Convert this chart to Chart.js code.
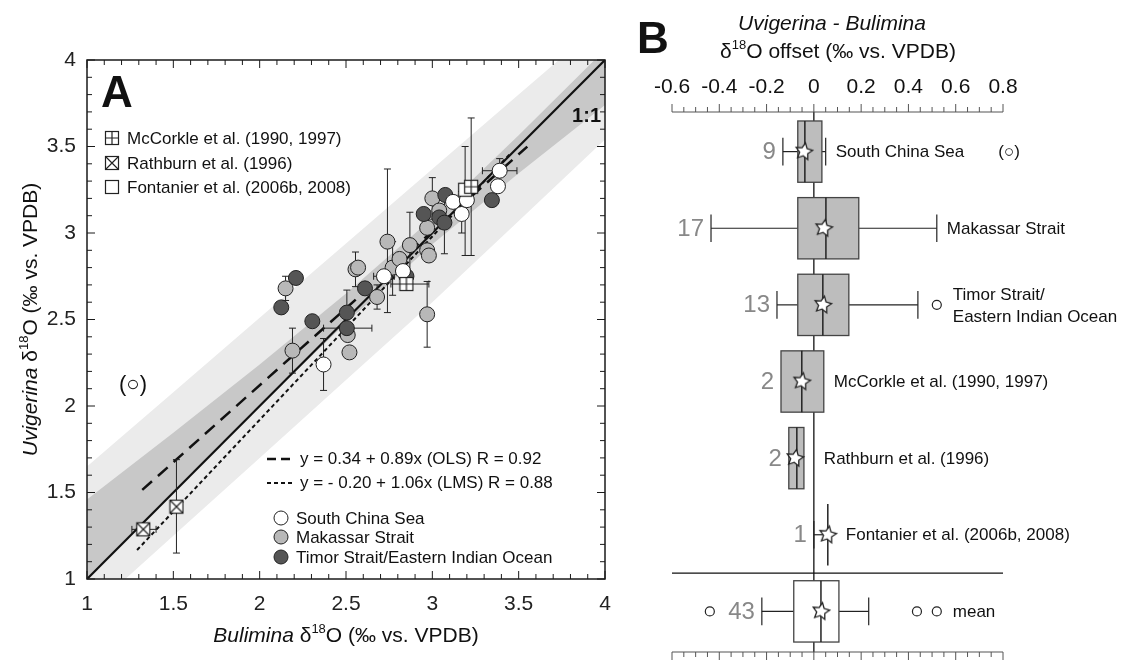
<!DOCTYPE html>
<html lang="en">
<head>
<meta charset="UTF-8">
<title>Uvigerina vs. Bulimina oxygen isotopes</title>
<script src="https://cdn.jsdelivr.net/npm/chart.js"></script>
<style>
  html, body { margin: 0; padding: 0; background: #fff; }
  #wrapA { position: absolute; left: 0; top: 0; width: 625px; height: 662px; }
  #wrapB { position: absolute; left: 625px; top: 0; width: 514px; height: 662px; }
</style>
</head>
<body>
<div id="wrapA"><canvas id="chartA"></canvas></div>
<div id="wrapB"><canvas id="chartB"></canvas></div>
<script>
const FONT = '"Liberation Sans", Arial, Helvetica, sans-serif';

// ---------- panel A data ----------
const ticksA = [1, 1.5, 2, 2.5, 3, 3.5, 4];

// South China Sea (white)
const scsX = [2.37, 2.72, 2.83, 3.12, 3.17, 3.20, 3.38, 3.39];
const scsY = [2.24, 2.75, 2.78, 3.18, 3.11, 3.19, 3.27, 3.36];
const scsXBar = [null, [2.66, 2.78], null, null, null, null, null, [3.29, 3.49]];
const scsYBar = [[2.09, 2.39], null, null, null, [3.00, 3.24], null, null, [3.29, 3.43]];

// Makassar Strait (light grey)
const makX = [2.15, 2.19, 2.51, 2.52, 2.555, 2.57, 2.68, 2.74, 2.77, 2.81, 2.87, 2.97, 2.97, 2.98, 2.97, 3.00, 3.04];
const makY = [2.68, 2.32, 2.41, 2.31, 2.79, 2.80, 2.63, 2.95, 2.80, 2.85, 2.93, 2.53, 2.90, 2.87, 3.03, 3.20, 3.13];
const makXBar = [null, null, null, null, null, null, null, null, null, null, null, null, null, null, null, null, null];
const makYBar = [[2.61, 2.75], [2.19, 2.45], null, null, [2.69, 2.89], null, [2.56, 2.70], [2.54, 3.37], [2.64, 2.95], null,
                 [2.75, 3.12], [2.34, 2.72], null, null, null, [3.08, 3.32], null];

// Timor Strait / Eastern Indian Ocean (dark grey)
const timX = [2.21, 2.125, 2.305, 2.505, 2.505, 2.61, 2.85, 2.95, 3.04, 3.07, 3.075, 3.345];
const timY = [2.74, 2.57, 2.49, 2.54, 2.45, 2.68, 2.75, 3.11, 3.09, 3.06, 3.22, 3.19];
const timXBar = [null, null, null, null, [2.37, 2.65], null, null, null, null, null, null, null];
const timYBar = [null, null, null, [2.41, 2.67], null, null, null, null, null, [2.88, 3.25], null, null];

// literature values
const mccX = [2.85, 3.225];
const mccY = [2.705, 3.267];
const mccXBar = [[2.76, 2.98], null];
const mccYBar = [null, [2.87, 3.665]];

const rathX = [1.326, 1.518];
const rathY = [1.287, 1.418];
const rathXBar = [[1.26, 1.40], null];
const rathYBar = [null, [1.15, 1.69]];

const fontX = [3.19];
const fontY = [3.25];
const fontXBar = [null];
const fontYBar = [[2.87, 3.50]];

// regressions (as stated in the legend) and their x extent
const ols = { a: 0.34, b: 0.89, from: 1.32, to: 3.55 };
const lms = { a: -0.20, b: 1.06, from: 1.29, to: 3.45 };

// shaded envelopes
const bandX       = [1, 1.5, 2, 2.5, 3, 3.5, 4];
const outerBandHi = [1.65, 2.08, 2.51, 2.94, 3.37, 3.80, 4.23];
const outerBandLo = [0.80, 1.25, 1.70, 2.15, 2.60, 3.07, 3.54];
const innerBandHi = [1.46, 1.845, 2.24, 2.65, 3.085, 3.565, 4.06];
const innerBandLo = [1.00, 1.505, 2.00, 2.48, 2.935, 3.345, 3.74];

// ---------- panel B data ----------
const ticksB = [-0.6, -0.4, -0.2, 0, 0.2, 0.4, 0.6, 0.8];
const rowNames = ['South China Sea', 'Makassar Strait', 'Timor Strait/\nEastern Indian Ocean',
                  'McCorkle et al. (1990, 1997)', 'Rathburn et al. (1996)', 'Fontanier et al. (2006b, 2008)', 'mean'];
const rowN      = [9, 17, 13, 2, 2, 1, 43];
const boxQ1     = [-0.068, -0.068, -0.068, -0.139, -0.106, 0.059, -0.085];
const boxMedian = [-0.038, 0.051, 0.038, -0.051, -0.072, 0.059, 0.030];
const boxQ3     = [0.034, 0.190, 0.148, 0.042, -0.042, 0.059, 0.106];
const whiskLo   = [-0.131, -0.435, -0.156, null, null, 0, -0.220];
const whiskHi   = [0.050, 0.520, 0.440, null, null, null, 0.232];
const rowMean   = [-0.042, 0.042, 0.038, -0.051, -0.080, 0.059, 0.030];
const outlierRow = [2, 6, 6, 6];
const outlierVal = [0.52, -0.44, 0.436, 0.52];

// ---------- marker images ----------
function squareMarker(kind) {
  const c = document.createElement('canvas');
  c.width = 16; c.height = 16;
  const g = c.getContext('2d');
  g.fillStyle = '#fff';
  g.fillRect(1, 1, 14, 14);
  g.strokeStyle = '#222';
  g.lineWidth = 1.2;
  g.strokeRect(1.5, 1.5, 13, 13);
  g.beginPath();
  if (kind === 'plus') { g.moveTo(8, 1.5); g.lineTo(8, 14.5); g.moveTo(1.5, 8); g.lineTo(14.5, 8); }
  if (kind === 'cross') { g.moveTo(1.5, 1.5); g.lineTo(14.5, 14.5); g.moveTo(14.5, 1.5); g.lineTo(1.5, 14.5); }
  g.stroke();
  return c;
}
function starMarker() {
  const c = document.createElement('canvas');
  c.width = 22; c.height = 22;
  const g = c.getContext('2d');
  g.beginPath();
  for (let i = 0; i < 10; i++) {
    const r = i % 2 ? 4.3 : 8.8;
    const ang = -Math.PI / 2 + i * Math.PI / 5 + 0.18;
    g.lineTo(11 + r * Math.cos(ang), 11 + r * Math.sin(ang));
  }
  g.closePath();
  g.fillStyle = '#fff';
  g.fill();
  g.lineWidth = 1.3;
  g.strokeStyle = '#222';
  g.stroke();
  return c;
}
const imgPlus = squareMarker('plus');
const imgCross = squareMarker('cross');
const imgPlain = squareMarker('plain');
const imgStar = starMarker();

// ---------- helpers ----------
const pts = (xs, ys) => xs.map((x, i) => ({ x, y: ys[i] }));
function seg(ctx, x1, y1, x2, y2) { ctx.beginPath(); ctx.moveTo(x1, y1); ctx.lineTo(x2, y2); ctx.stroke(); }

// text made of pieces: [string, ''|'i'|'s'|'b']
function richText(ctx, parts, x, y, size, align) {
  const fontFor = p => (p[1] === 'i' ? 'italic ' : '') + (p[1] === 'b' ? 'bold ' : '') +
                       (p[1] === 's' ? Math.round(size * 0.6) : size) + 'px ' + FONT;
  let w = 0;
  parts.forEach(p => { ctx.font = fontFor(p); w += ctx.measureText(p[0]).width; });
  let cx = align === 'center' ? x - w / 2 : (align === 'right' ? x - w : x);
  ctx.textAlign = 'left';
  ctx.textBaseline = 'alphabetic';
  parts.forEach(p => {
    ctx.font = fontFor(p);
    ctx.fillText(p[0], cx, p[1] === 's' ? y - size * 0.42 : y);
    cx += ctx.measureText(p[0]).width;
  });
}

// ---------- panel A plugins ----------
const errorGroups = [
  { x: makX, y: makY, xb: makXBar, yb: makYBar },
  { x: timX, y: timY, xb: timXBar, yb: timYBar },
  { x: scsX, y: scsY, xb: scsXBar, yb: scsYBar },
  { x: mccX, y: mccY, xb: mccXBar, yb: mccYBar },
  { x: rathX, y: rathY, xb: rathXBar, yb: rathYBar },
  { x: fontX, y: fontY, xb: fontXBar, yb: fontYBar }
];

const errorBars = {
  id: 'errorBars',
  beforeDatasetDraw(chart, args) {
    if (chart.data.datasets[args.index].label !== 'Makassar Strait') return;
    const { ctx, scales: { x, y } } = chart;
    const cap = 3.5;
    ctx.save();
    ctx.strokeStyle = '#222';
    ctx.lineWidth = 1;
    errorGroups.forEach(g => g.x.forEach((xv, i) => {
      const px = x.getPixelForValue(xv), py = y.getPixelForValue(g.y[i]);
      const yb = g.yb[i], xb = g.xb[i];
      if (yb) {
        const p1 = y.getPixelForValue(yb[0]), p2 = y.getPixelForValue(yb[1]);
        seg(ctx, px, p1, px, p2);
        seg(ctx, px - cap, p1, px + cap, p1);
        seg(ctx, px - cap, p2, px + cap, p2);
      }
      if (xb) {
        const p1 = x.getPixelForValue(xb[0]), p2 = x.getPixelForValue(xb[1]);
        seg(ctx, p1, py, p2, py);
        seg(ctx, p1, py - cap, p1, py + cap);
        seg(ctx, p2, py - cap, p2, py + cap);
      }
    }));
    ctx.restore();
  }
};

const frameA = {
  id: 'frameA',
  afterDraw(chart) {
    const { ctx, chartArea: a, scales: { x, y } } = chart;
    ctx.save();
    ctx.strokeStyle = '#1a1a1a';
    ctx.lineWidth = 1.5;
    ctx.strokeRect(a.left, a.top, a.right - a.left, a.bottom - a.top);
    ctx.lineWidth = 1;
    for (let k = 0; k <= 30; k++) {
      const v = 1 + k * 0.1;
      const len = k % 5 === 0 ? 8 : 5;
      const px = x.getPixelForValue(v), py = y.getPixelForValue(v);
      seg(ctx, px, a.bottom, px, a.bottom - len);
      seg(ctx, px, a.top, px, a.top + len);
      seg(ctx, a.left, py, a.left + len, py);
      seg(ctx, a.right, py, a.right - len, py);
    }
    ctx.restore();
  }
};

const textA = {
  id: 'textA',
  afterDraw(chart) {
    const { ctx, chartArea: a } = chart;
    ctx.save();
    ctx.fillStyle = '#111';

    // panel letter
    ctx.font = 'bold 44px ' + FONT;
    ctx.textAlign = 'left';
    ctx.textBaseline = 'alphabetic';
    ctx.fillText('A', 101, 107);

    // axis titles
    richText(ctx, [['Bulimina', 'i'], [' δ', ''], ['18', 's'], ['O (‰ vs. VPDB)', '']], (a.left + a.right) / 2, 642, 21, 'center');
    ctx.save();
    ctx.translate(37, (a.top + a.bottom) / 2);
    ctx.rotate(-Math.PI / 2);
    richText(ctx, [['Uvigerina', 'i'], [' δ', ''], ['18', 's'], ['O (‰ vs. VPDB)', '']], 0, 0, 21, 'center');
    ctx.restore();

    // literature legend
    const lit = [[imgPlus, 'McCorkle et al. (1990, 1997)', 138],
                 [imgCross, 'Rathburn et al. (1996)', 163],
                 [imgPlain, 'Fontanier et al. (2006b, 2008)', 187]];
    ctx.font = '17px ' + FONT;
    ctx.textBaseline = 'middle';
    lit.forEach(([img, txt, yy]) => {
      ctx.drawImage(img, 104, yy - 8);
      ctx.fillText(txt, 127, yy + 1);
    });

    // regression legend
    ctx.strokeStyle = '#111';
    ctx.lineWidth = 2.4;
    ctx.setLineDash([9, 5]);
    seg(ctx, 267, 459, 294, 459);
    ctx.lineWidth = 2;
    ctx.setLineDash([4, 3]);
    seg(ctx, 267, 483, 294, 483);
    ctx.setLineDash([]);
    ctx.fillText('y = 0.34 + 0.89x (OLS) R = 0.92', 300, 459);
    ctx.fillText('y = - 0.20 + 1.06x (LMS) R = 0.88', 300, 483);

    // region legend
    const reg = [['#ffffff', 'South China Sea', 518], ['#b8b8b8', 'Makassar Strait', 537], ['#555555', 'Timor Strait/Eastern Indian Ocean', 557]];
    ctx.lineWidth = 1;
    reg.forEach(([col, txt, yy]) => {
      ctx.beginPath();
      ctx.arc(281, yy, 7, 0, Math.PI * 2);
      ctx.fillStyle = col;
      ctx.fill();
      ctx.strokeStyle = '#222';
      ctx.stroke();
      ctx.fillStyle = '#111';
      ctx.fillText(txt, 296, yy + 1);
    });

    // 1:1 label and excluded sample
    ctx.font = 'bold 20px ' + FONT;
    ctx.textAlign = 'right';
    ctx.fillText('1:1', a.right - 4, 116);
    ctx.font = '22px ' + FONT;
    ctx.textAlign = 'center';
    ctx.fillText('(○)', 133, 385);
    ctx.restore();
  }
};

// ---------- panel A chart ----------
new Chart(document.getElementById('chartA'), {
  type: 'scatter',
  data: {
    datasets: [
      { label: 'South China Sea', data: pts(scsX, scsY), order: 2,
        pointRadius: 7.5, pointBackgroundColor: '#ffffff', pointBorderColor: '#222', pointBorderWidth: 1 },
      { label: 'Timor Strait/Eastern Indian Ocean', data: pts(timX, timY), order: 3,
        pointRadius: 7.5, pointBackgroundColor: '#555555', pointBorderColor: '#222', pointBorderWidth: 1 },
      { label: 'Makassar Strait', data: pts(makX, makY), order: 4,
        pointRadius: 7.5, pointBackgroundColor: '#b8b8b8', pointBorderColor: '#222', pointBorderWidth: 1 },
      { label: 'McCorkle et al. (1990, 1997)', data: pts(mccX, mccY), order: 1, pointStyle: imgPlus, pointRadius: 8 },
      { label: 'Rathburn et al. (1996)', data: pts(rathX, rathY), order: 1, pointStyle: imgCross, pointRadius: 8 },
      { label: 'Fontanier et al. (2006b, 2008)', data: pts(fontX, fontY), order: 1, pointStyle: imgPlain, pointRadius: 8 },
      { label: '1:1', data: [{ x: 1, y: 1 }, { x: 4, y: 4 }], order: 5, showLine: true,
        pointRadius: 0, borderColor: '#111', borderWidth: 2.2 },
      { label: 'OLS', data: [{ x: ols.from, y: ols.a + ols.b * ols.from }, { x: ols.to, y: ols.a + ols.b * ols.to }],
        order: 5, showLine: true, pointRadius: 0, borderColor: '#111', borderWidth: 2.5, borderDash: [13, 8] },
      { label: 'LMS', data: [{ x: lms.from, y: lms.a + lms.b * lms.from }, { x: lms.to, y: lms.a + lms.b * lms.to }],
        order: 5, showLine: true, pointRadius: 0, borderColor: '#111', borderWidth: 2, borderDash: [4, 3] },
      { label: 'inner hi', data: pts(bandX, innerBandHi), order: 9, showLine: true, pointRadius: 0,
        borderWidth: 0, borderColor: 'transparent', fill: '+1', backgroundColor: '#c8c8c8' },
      { label: 'inner lo', data: pts(bandX, innerBandLo), order: 9, showLine: true, pointRadius: 0,
        borderWidth: 0, borderColor: 'transparent', fill: false },
      { label: 'outer hi', data: pts(bandX, outerBandHi), order: 10, showLine: true, pointRadius: 0,
        borderWidth: 0, borderColor: 'transparent', fill: '+1', backgroundColor: '#ebebeb' },
      { label: 'outer lo', data: pts(bandX, outerBandLo), order: 10, showLine: true, pointRadius: 0,
        borderWidth: 0, borderColor: 'transparent', fill: false }
    ]
  },
  options: {
    responsive: true,
    maintainAspectRatio: false,
    animation: false,
    events: [],
    layout: { padding: { left: 0, top: 60, right: 20, bottom: 0 } },
    plugins: { legend: { display: false }, tooltip: { enabled: false } },
    scales: {
      x: {
        type: 'linear', min: 1, max: 4,
        afterBuildTicks: s => { s.ticks = ticksA.map(v => ({ value: v })); },
        afterFit: s => { s.height = 83; },
        grid: { display: false, drawTicks: false },
        border: { display: false },
        ticks: { padding: 13, color: '#222', font: { family: FONT, size: 21 }, callback: v => String(v) }
      },
      y: {
        type: 'linear', min: 1, max: 4,
        afterBuildTicks: s => { s.ticks = ticksA.map(v => ({ value: v })); },
        afterFit: s => { s.width = 87; },
        grid: { display: false, drawTicks: false },
        border: { display: false },
        ticks: { padding: 11, color: '#222', font: { family: FONT, size: 21 }, callback: v => String(v) }
      }
    }
  },
  plugins: [errorBars, frameA, textA]
});

// ---------- panel B plugins ----------
const boxes = {
  id: 'boxes',
  beforeDatasetsDraw(chart) {
    const { ctx, chartArea: a, scales: { x, y } } = chart;
    const px = v => x.getPixelForValue(v);
    ctx.save();
    ctx.strokeStyle = '#111';
    ctx.lineWidth = 1.3;
    seg(ctx, px(0), a.top, px(0), a.bottom);
    const sep = y.getPixelForValue(5.5);
    seg(ctx, a.left, sep, a.right, sep);

    rowNames.forEach((_, i) => {
      const cy = y.getPixelForValue(i);
      const h = Math.abs(y.getPixelForValue(i + 0.4) - cy);
      const ch = Math.abs(y.getPixelForValue(i + 0.18) - cy);
      ctx.strokeStyle = '#222';
      ctx.lineWidth = 1.2;
      if (whiskLo[i] !== null) {
        seg(ctx, px(whiskLo[i]), cy, px(boxQ1[i]), cy);
        seg(ctx, px(whiskLo[i]), cy - ch, px(whiskLo[i]), cy + ch);
      }
      if (whiskHi[i] !== null) {
        seg(ctx, px(boxQ3[i]), cy, px(whiskHi[i]), cy);
        seg(ctx, px(whiskHi[i]), cy - ch, px(whiskHi[i]), cy + ch);
      }
      if (boxQ3[i] > boxQ1[i]) {
        ctx.fillStyle = i === 6 ? '#ffffff' : '#bdbdbd';
        ctx.fillRect(px(boxQ1[i]), cy - h, px(boxQ3[i]) - px(boxQ1[i]), 2 * h);
        ctx.strokeStyle = '#444';
        ctx.lineWidth = 1.3;
        ctx.strokeRect(px(boxQ1[i]), cy - h, px(boxQ3[i]) - px(boxQ1[i]), 2 * h);
      }
      ctx.strokeStyle = '#222';
      ctx.lineWidth = 1.5;
      seg(ctx, px(boxMedian[i]), cy - h, px(boxMedian[i]), cy + h);
    });
    ctx.restore();
  }
};

const axesB = {
  id: 'axesB',
  afterDraw(chart) {
    const { ctx, chartArea: a, scales: { x, y } } = chart;
    const px = v => x.getPixelForValue(v);
    ctx.save();
    ctx.strokeStyle = '#555';
    ctx.lineWidth = 1.2;
    seg(ctx, a.left, a.top, a.right, a.top);
    seg(ctx, a.left, a.bottom, a.right, a.bottom);
    ctx.lineWidth = 1;
    for (let k = 0; k <= 28; k++) {
      const v = -0.6 + k * 0.05;
      const len = k % 4 === 0 ? 8 : 5;
      seg(ctx, px(v), a.top, px(v), a.top - len);
      seg(ctx, px(v), a.bottom, px(v), a.bottom + len);
    }

    // titles
    ctx.fillStyle = '#111';
    ctx.font = 'bold 44px ' + FONT;
    ctx.textAlign = 'left';
    ctx.textBaseline = 'alphabetic';
    ctx.fillText('B', 12, 53);
    richText(ctx, [['Uvigerina - Bulimina', 'i']], 207, 30, 21, 'center');
    richText(ctx, [['δ', ''], ['18', 's'], ['O offset (‰ vs. VPDB)', '']], 213, 58, 21, 'center');

    // row labels
    rowNames.forEach((name, i) => {
      const cy = y.getPixelForValue(i);
      const marks = [boxQ1[i], boxQ3[i], rowMean[i]];
      if (whiskLo[i] !== null) marks.push(whiskLo[i]);
      if (whiskHi[i] !== null) marks.push(whiskHi[i]);
      const outs = outlierVal.filter((v, k) => outlierRow[k] === i);
      let left = px(Math.min(...marks)) - 7;
      let right = Math.max(px(Math.max(...marks, 0)) + 10, px(rowMean[i]) + 18);
      if (outs.length) right = px(Math.max(...outs)) + 16;

      ctx.fillStyle = '#888';
      ctx.font = '24px ' + FONT;
      ctx.textAlign = 'right';
      ctx.textBaseline = 'middle';
      ctx.fillText(String(rowN[i]), left, cy + 1);

      ctx.fillStyle = '#111';
      ctx.font = '17px ' + FONT;
      ctx.textAlign = 'left';
      const lines = name.split('\n');
      if (lines.length === 2) {
        ctx.fillText(lines[0], right, cy - 10);
        ctx.fillText(lines[1], right, cy + 12);
      } else {
        ctx.fillText(name, right, cy + 1);
      }
      if (i === 0) ctx.fillText('(○)', right + ctx.measureText(name).width + 34, cy + 1);
    });
    ctx.restore();
  }
};

// ---------- panel B chart ----------
new Chart(document.getElementById('chartB'), {
  type: 'scatter',
  data: {
    datasets: [
      { label: 'mean', data: rowMean.map((v, i) => ({ x: v, y: i })), pointStyle: imgStar, pointRadius: 9 },
      { label: 'outliers', data: outlierVal.map((v, k) => ({ x: v, y: outlierRow[k] })),
        pointRadius: 4.5, pointBackgroundColor: '#fff', pointBorderColor: '#222', pointBorderWidth: 1.2 }
    ]
  },
  options: {
    responsive: true,
    maintainAspectRatio: false,
    animation: false,
    events: [],
    layout: { padding: { left: 47, top: 0, right: 136, bottom: 5 } },
    plugins: { legend: { display: false }, tooltip: { enabled: false } },
    scales: {
      x: {
        type: 'linear', position: 'top', min: -0.6, max: 0.8,
        afterBuildTicks: s => { s.ticks = ticksB.map(v => ({ value: v })); },
        afterFit: s => { s.height = 112; },
        grid: { display: false, drawTicks: false },
        border: { display: false },
        ticks: { padding: 12, color: '#111', font: { family: FONT, size: 21 }, callback: v => String(v) }
      },
      y: { type: 'linear', display: false, reverse: true, min: -0.517, max: 6.53 }
    }
  },
  plugins: [boxes, axesB]
});
</script>
</body>
</html>
